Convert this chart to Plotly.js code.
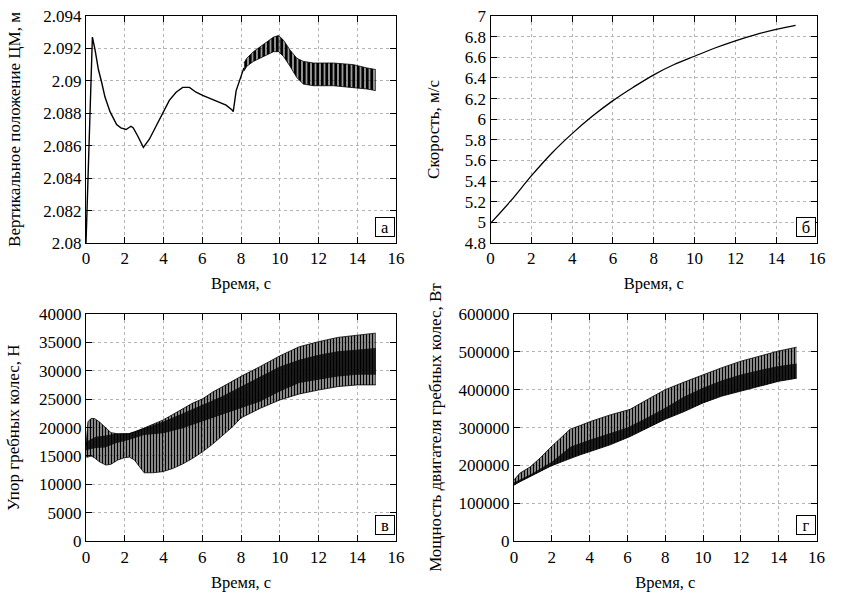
<!DOCTYPE html>
<html><head><meta charset="utf-8">
<script src="https://cdn.plot.ly/plotly-3.0.1.min.js"></script>
<style>body{margin:0;background:#fff}#chart{width:841px;height:595px}</style>
</head><body><div id="chart"></div>
<script>
// ---- Panel а: vertical position of CM (m)
const tA = [0, 0.05, 0.1, 0.15, 0.22, 0.33, 0.47, 0.64, 0.81, 0.98, 1.24, 1.58, 1.8, 2.07, 2.32, 2.44, 2.67, 2.96, 3.27, 3.61, 3.96, 4.3, 4.65, 4.99, 5.34, 5.68, 6.02, 6.45, 6.88, 7.23, 7.54, 7.6, 7.75, 8.0, 8.15];
const yA = [2.0800, 2.0819, 2.0838, 2.0855, 2.0885, 2.0927, 2.0919, 2.0907, 2.0899, 2.0890, 2.0881, 2.0873, 2.0871, 2.0870, 2.0872, 2.0871, 2.0866, 2.0859, 2.0864, 2.0872, 2.0881, 2.0888, 2.0893, 2.0896, 2.0896, 2.0893, 2.0891, 2.0889, 2.0887, 2.0885, 2.0882, 2.0881, 2.0894, 2.0903, 2.0908];
const tAband = [8.15, 8.3, 8.64, 8.99, 9.33, 9.68, 9.94, 10.2, 10.53, 10.88, 11.22, 11.74, 12.77, 13.8, 14.49, 14.95];
const yAhi = [2.0911, 2.0914, 2.0918, 2.0921, 2.0924, 2.0927, 2.0928, 2.0925, 2.0919, 2.0914, 2.0912, 2.0911, 2.0911, 2.0910, 2.0908, 2.0907];
const yAlo = [2.0906, 2.0909, 2.0912, 2.0914, 2.0916, 2.0918, 2.0918, 2.0915, 2.0909, 2.0902, 2.0898, 2.0897, 2.0897, 2.0896, 2.0895, 2.0894];

// ---- Panel б: speed (m/s)
const tB = [0, 1, 2, 3, 4, 5, 6, 7, 8, 9, 10, 11, 12, 13, 14, 14.95];
const vB = [4.99, 5.21, 5.45, 5.67, 5.86, 6.03, 6.18, 6.31, 6.43, 6.53, 6.61, 6.69, 6.76, 6.82, 6.87, 6.91];

// ---- Panel в: paddle wheel thrust (N), envelope of oscillation
const tC = [0, 0.1, 0.26, 0.43, 0.69, 1.03, 1.29, 1.64, 1.98, 2.24, 2.5, 2.75, 3.0, 3.44, 3.96, 4.48, 4.99, 5.51, 6.02, 6.54, 7.06, 7.57, 8.0, 9.0, 10.0, 11.0, 12.0, 13.0, 14.0, 14.95];
const cHi = [16800, 21000, 21600, 21600, 21000, 19900, 19100, 18900, 18850, 18930, 19200, 19580, 19900, 20550, 21300, 22300, 23300, 24300, 25050, 26250, 27200, 28200, 29000, 30750, 32600, 34200, 35100, 35850, 36300, 36600];
const cLo = [14800, 14800, 15000, 14700, 14000, 13400, 13550, 14300, 14700, 14800, 14300, 13100, 12050, 12050, 12250, 12800, 13600, 14600, 15750, 17100, 18700, 20150, 21700, 23400, 24850, 25900, 26600, 27200, 27500, 27500];
const tCcore = [0, 0.5, 1.0, 1.5, 2.2, 3.0, 4.0, 5.0, 6.0, 7.0, 8.0, 9.0, 10.0, 11.0, 12.0, 13.0, 14.0, 14.95];
const cCoreHi = [17500, 18400, 18600, 18900, 19000, 19880, 21050, 22500, 24000, 25450, 27200, 28980, 30750, 31930, 32800, 33400, 33700, 34000];
const cCoreLo = [16000, 16400, 16500, 17200, 17800, 18700, 19000, 19880, 21050, 22230, 23400, 24570, 26340, 27820, 28400, 28980, 29280, 29300];

// ---- Panel г: paddle wheel engine power (W), envelope of oscillation
const tD = [0, 0.32, 0.85, 1.38, 1.9, 2.44, 2.7, 2.97, 3.5, 4.03, 5.09, 6.14, 7.2, 8.0, 9.0, 10.0, 11.0, 12.0, 13.0, 14.0, 14.95];
const dHi = [162000, 180000, 196000, 219500, 245800, 272100, 285300, 295800, 305300, 315800, 333400, 348000, 378000, 400000, 420000, 440000, 458000, 475000, 489000, 502000, 512000];
const dLo = [148000, 158000, 171000, 184000, 197400, 208000, 213000, 219500, 228000, 236800, 254500, 276300, 303000, 322000, 342000, 365000, 383000, 396000, 410000, 422000, 430000];
const tDcore = [0, 1, 2, 3, 4, 5, 6, 7, 8, 9, 10, 11, 12, 13, 14, 14.95];
const dCoreHi = [155000, 180000, 210000, 250000, 268000, 285000, 300000, 325000, 352000, 382000, 405000, 425000, 440000, 452000, 462000, 469000];
const dCoreLo = [148000, 174000, 199000, 219500, 236000, 253000, 273000, 298000, 322000, 342000, 365000, 383000, 396000, 410000, 422000, 430000];

const xTitle = 'Время, с';
const yTitles = ['Вертикальное положение ЦМ, м', 'Скорость, м/с', 'Упор гребных колес, Н', 'Мощность двигателя гребных колес, Вт'];
const letters = ['а', 'б', 'в', 'г'];

const FONT = '"Liberation Serif"';
const FS_TICK = 17;
const FS_X = 16.5;
const FS_Y = 17;
const black = 'black';

function band(xs, lo, hi, xa, ya, size, solidity, bg) {
  return [
    {x: xs, y: lo, xaxis: xa, yaxis: ya, mode: 'lines', line: {color: black, width: 0.8}, hoverinfo: 'skip'},
    {x: xs, y: hi, xaxis: xa, yaxis: ya, mode: 'lines', line: {color: black, width: 0.8}, fill: 'tonexty',
     fillcolor: bg, fillpattern: {shape: '|', size: size, solidity: solidity, fgcolor: black, bgcolor: bg}, hoverinfo: 'skip'}
  ];
}
function core(xs, lo, hi, xa, ya) {
  return [
    {x: xs, y: lo, xaxis: xa, yaxis: ya, mode: 'lines', line: {color: black, width: 0}, hoverinfo: 'skip'},
    {x: xs, y: hi, xaxis: xa, yaxis: ya, mode: 'lines', line: {color: black, width: 0}, fill: 'tonexty',
     fillcolor: 'rgba(0,0,0,0.3)', fillpattern: {shape: '|', size: 3, solidity: 0.8, fgcolor: black, bgcolor: 'rgba(0,0,0,0.35)'}, hoverinfo: 'skip'}
  ];
}

const traces = [
  {x: tA, y: yA, xaxis: 'x', yaxis: 'y', mode: 'lines', line: {color: black, width: 1.4}},
  ...band(tAband, yAlo, yAhi, 'x', 'y', 4.5, 0.6, 'rgba(0,0,0,0.4)'),
  {x: tB, y: vB, xaxis: 'x2', yaxis: 'y2', mode: 'lines', line: {color: black, width: 1.3, shape: 'spline'}},
  ...band(tC, cLo, cHi, 'x3', 'y3', 3, 0.55, 'rgba(0,0,0,0.22)'),
  ...core(tCcore, cCoreLo, cCoreHi, 'x3', 'y3'),
  ...band(tD, dLo, dHi, 'x4', 'y4', 3, 0.55, 'rgba(0,0,0,0.22)'),
  ...core(tDcore, dCoreLo, dCoreHi, 'x4', 'y4')
];

const W = 841, H = 595;
function ax(extra) {
  return Object.assign({
    showline: true, linecolor: black, linewidth: 1, mirror: 'ticks',
    ticks: 'inside', ticklen: 6, tickcolor: black, tickwidth: 1,
    showgrid: true, gridcolor: '#b5b5b5', griddash: 'dot', gridwidth: 1,
    zeroline: false, tickfont: {family: FONT, size: FS_TICK, color: black},
    fixedrange: true
  }, extra);
}
function xax(l, r, anchor) {
  return ax({domain: [l / W, r / W], anchor: anchor, range: [0, 16], dtick: 2, tick0: 0,
    title: {text: xTitle, font: {family: FONT, size: FS_X, color: black}, standoff: 10}});
}
function yax(t, b, anchor, range, dtick, title, standoff, fmt) {
  const o = {domain: [1 - b / H, 1 - t / H], anchor: anchor, range: range, dtick: dtick, tick0: range[0],
    title: {text: title, font: {family: FONT, size: FS_Y, color: black}, standoff: standoff}};
  if (fmt) o.tickformat = fmt;
  return ax(o);
}

const annotations = [['x', 'y'], ['x2', 'y2'], ['x3', 'y3'], ['x4', 'y4']].map((p, i) => ({
  xref: p[0] + ' domain', yref: p[1] + ' domain', x: 1, y: 0, xanchor: 'right', yanchor: 'bottom',
  xshift: -1, yshift: 6, text: letters[i], showarrow: false,
  font: {family: FONT, size: FS_X, color: black}, bordercolor: black, borderwidth: 1, borderpad: 0,
  bgcolor: 'white', width: 18, height: 18
}));

const layout = {
  width: W, height: H, autosize: false,
  margin: {l: 0, r: 0, t: 0, b: 0},
  paper_bgcolor: 'white', plot_bgcolor: 'white',
  showlegend: false,
  font: {family: FONT, size: FS_X, color: black},
  xaxis: xax(86, 396, 'y'),
  yaxis: yax(16, 243, 'x', [2.08, 2.094], 0.002, yTitles[0], 18),
  xaxis2: xax(490.5, 817, 'y2'),
  yaxis2: yax(16, 243, 'x2', [4.8, 7], 0.2, yTitles[1], 20),
  xaxis3: xax(86, 396, 'y3'),
  yaxis3: yax(313.8, 541.3, 'x3', [0, 40000], 5000, yTitles[2], 15, 'd'),
  xaxis4: xax(514, 816.5, 'y4'),
  yaxis4: yax(313.8, 541.3, 'x4', [0, 600000], 100000, yTitles[3], 12, 'd'),
  annotations: annotations
};

Plotly.newPlot('chart', traces, layout, {displayModeBar: false, staticPlot: true});
</script>
</body></html>
